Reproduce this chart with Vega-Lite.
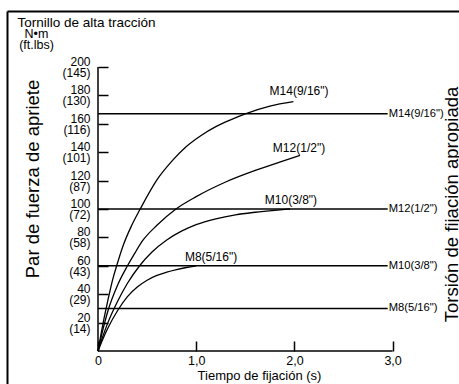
{
  "$schema": "https://vega.github.io/schema/vega-lite/v6.json",
  "width": 452,
  "height": 373,
  "autosize": {"type": "none"},
  "padding": {"left": 7, "top": 11, "right": 0, "bottom": 0},
  "background": "white",
  "config": {
    "view": {"stroke": null},
    "font": "Liberation Sans",
    "axis": {"grid": false, "domainColor": "black", "tickColor": "black", "labelColor": "black", "titleColor": "black", "titleFontWeight": "normal", "labelFlush": false, "labelOverlap": false, "labelBound": false, "labelFont": "Liberation Sans", "titleFont": "Liberation Sans"}
  },
  "datasets": {
    "axes": [
      {"t": 0, "v": 0, "t2": 0, "v2": 200},
      {"t": 0, "v": 0, "t2": 3, "v2": 0}
    ],
    "curves": [
      {"bolt": "M14(9/16\")", "t": 0, "v": 0},
      {"bolt": "M14(9/16\")", "t": 0.05, "v": 19},
      {"bolt": "M14(9/16\")", "t": 0.1, "v": 35.5},
      {"bolt": "M14(9/16\")", "t": 0.15, "v": 50.5},
      {"bolt": "M14(9/16\")", "t": 0.19, "v": 60},
      {"bolt": "M14(9/16\")", "t": 0.26, "v": 75},
      {"bolt": "M14(9/16\")", "t": 0.34, "v": 88},
      {"bolt": "M14(9/16\")", "t": 0.43, "v": 100},
      {"bolt": "M14(9/16\")", "t": 0.6, "v": 120.5},
      {"bolt": "M14(9/16\")", "t": 0.75, "v": 133.5},
      {"bolt": "M14(9/16\")", "t": 0.9, "v": 144},
      {"bolt": "M14(9/16\")", "t": 1.05, "v": 151.8},
      {"bolt": "M14(9/16\")", "t": 1.2, "v": 158},
      {"bolt": "M14(9/16\")", "t": 1.35, "v": 162.8},
      {"bolt": "M14(9/16\")", "t": 1.5, "v": 167},
      {"bolt": "M14(9/16\")", "t": 1.75, "v": 172.5},
      {"bolt": "M14(9/16\")", "t": 1.99, "v": 175.6},
      {"bolt": "M12(1/2\")", "t": 0, "v": 0},
      {"bolt": "M12(1/2\")", "t": 0.05, "v": 15},
      {"bolt": "M12(1/2\")", "t": 0.1, "v": 28},
      {"bolt": "M12(1/2\")", "t": 0.2, "v": 46.5},
      {"bolt": "M12(1/2\")", "t": 0.3, "v": 60},
      {"bolt": "M12(1/2\")", "t": 0.38, "v": 69.5},
      {"bolt": "M12(1/2\")", "t": 0.458, "v": 78},
      {"bolt": "M12(1/2\")", "t": 0.6, "v": 88.5},
      {"bolt": "M12(1/2\")", "t": 0.794, "v": 100},
      {"bolt": "M12(1/2\")", "t": 1.0, "v": 108.7},
      {"bolt": "M12(1/2\")", "t": 1.3, "v": 119},
      {"bolt": "M12(1/2\")", "t": 1.616, "v": 127.5},
      {"bolt": "M12(1/2\")", "t": 1.85, "v": 133},
      {"bolt": "M12(1/2\")", "t": 2.057, "v": 137.8},
      {"bolt": "M10(3/8\")", "t": 0, "v": 0},
      {"bolt": "M10(3/8\")", "t": 0.05, "v": 10.5},
      {"bolt": "M10(3/8\")", "t": 0.1, "v": 19.8},
      {"bolt": "M10(3/8\")", "t": 0.2, "v": 35},
      {"bolt": "M10(3/8\")", "t": 0.3, "v": 47.7},
      {"bolt": "M10(3/8\")", "t": 0.42, "v": 59.7},
      {"bolt": "M10(3/8\")", "t": 0.55, "v": 69.7},
      {"bolt": "M10(3/8\")", "t": 0.7, "v": 78.2},
      {"bolt": "M10(3/8\")", "t": 0.85, "v": 84.4},
      {"bolt": "M10(3/8\")", "t": 1.0, "v": 89},
      {"bolt": "M10(3/8\")", "t": 1.2, "v": 93.1},
      {"bolt": "M10(3/8\")", "t": 1.4, "v": 95.9},
      {"bolt": "M10(3/8\")", "t": 1.6, "v": 97.7},
      {"bolt": "M10(3/8\")", "t": 1.8, "v": 99.1},
      {"bolt": "M10(3/8\")", "t": 1.955, "v": 100},
      {"bolt": "M8(5/16\")", "t": 0, "v": 0},
      {"bolt": "M8(5/16\")", "t": 0.05, "v": 8.5},
      {"bolt": "M8(5/16\")", "t": 0.1, "v": 16},
      {"bolt": "M8(5/16\")", "t": 0.2, "v": 28.5},
      {"bolt": "M8(5/16\")", "t": 0.3, "v": 38.3},
      {"bolt": "M8(5/16\")", "t": 0.4, "v": 45},
      {"bolt": "M8(5/16\")", "t": 0.5, "v": 49.8},
      {"bolt": "M8(5/16\")", "t": 0.6, "v": 53.2},
      {"bolt": "M8(5/16\")", "t": 0.7, "v": 55.5},
      {"bolt": "M8(5/16\")", "t": 0.8, "v": 57.3},
      {"bolt": "M8(5/16\")", "t": 0.9, "v": 58.8},
      {"bolt": "M8(5/16\")", "t": 1.0, "v": 60}
    ],
    "torque": [
      {"bolt": "M14(9/16\")", "t": 0, "v": 167},
      {"bolt": "M14(9/16\")", "t": 2.95, "v": 167},
      {"bolt": "M12(1/2\")", "t": 0, "v": 100},
      {"bolt": "M12(1/2\")", "t": 2.95, "v": 100},
      {"bolt": "M10(3/8\")", "t": 0, "v": 60},
      {"bolt": "M10(3/8\")", "t": 2.95, "v": 60},
      {"bolt": "M8(5/16\")", "t": 0, "v": 30},
      {"bolt": "M8(5/16\")", "t": 2.95, "v": 30}
    ],
    "labels": [
      {"bolt": "M14(9/16\")", "t": 2.047, "v": 183.1},
      {"bolt": "M12(1/2\")", "t": 2.047, "v": 143},
      {"bolt": "M10(3/8\")", "t": 1.965, "v": 106.3},
      {"bolt": "M8(5/16\")", "t": 1.151, "v": 66.5}
    ]
  },
  "layer": [
    {
      "data": {"name": "axes"},
      "mark": {"type": "rule", "color": "black", "strokeWidth": 1.5},
      "encoding": {
        "x": {"field": "t", "type": "quantitative", "scale": {"domain": [-0.9267, 3.6762], "nice": false, "zero": false},
          "axis": {"orient": "top", "offset": 0, "domain": true, "domainWidth": 2, "ticks": false, "labels": false, "title": "Tornillo de alta tracción", "titleX": 10, "titleY": 15, "titleAlign": "left", "titleBaseline": "alphabetic", "titleAngle": 0, "titleFontSize": 13.5}},
        "x2": {"field": "t2"},
        "y": {"field": "v", "type": "quantitative", "scale": {"domain": [-23.24, 239.44], "nice": false, "zero": false},
          "axis": {"orient": "left", "offset": 0, "domain": true, "domainWidth": 2, "ticks": false, "labels": false, "title": "Par de fuerza de apriete", "titleX": 31, "titleY": 167.5, "titleAngle": 270, "titleAlign": "center", "titleBaseline": "alphabetic", "titleFontSize": 18.5}},
        "y2": {"field": "v2"}
      }
    },
    {
      "data": {"name": "curves"},
      "mark": {"type": "line", "color": "black", "strokeWidth": 1.3, "interpolate": "monotone"},
      "encoding": {
        "x": {"field": "t", "type": "quantitative", "scale": {"domain": [-0.9267, 3.6762], "nice": false, "zero": false},
          "axis": {"orient": "top", "offset": -340, "domain": false, "ticks": true, "tickSize": 10, "tickWidth": 1.5, "values": [0, 1, 2, 3],
            "labelExpr": "datum.value == 0 ? '0' : replace(format(datum.value, '.1f'), '.', ',')",
            "labelAlign": "center", "labelBaseline": "top", "labelPadding": -13, "labelFontSize": 12.5,
            "title": "Tiempo de fijación (s)", "titleX": 252, "titleY": 24, "titleAlign": "center", "titleBaseline": "middle", "titleAngle": 0, "titleFontSize": 13}},
        "y": {"field": "v", "type": "quantitative", "scale": {"domain": [-23.24, 239.44], "nice": false, "zero": false},
          "axis": {"orient": "right", "offset": -361, "domain": false, "ticks": true, "tickSize": 10, "tickWidth": 1.5, "values": [20, 40, 60, 80, 100, 120, 140, 160, 180, 200],
            "labelExpr": "[datum.label, ['(14)','(29)','(43)','(58)','(72)','(87)','(101)','(116)','(130)','(145)'][datum.value / 20 - 1]]",
            "labelAlign": "right", "labelBaseline": "middle", "labelPadding": -18, "labelOffset": -5.5, "labelFontSize": 12, "labelLineHeight": 11,
            "title": ["N•m", "(ft.lbs)"], "titleX": -62, "titleY": 22.5, "titleAngle": 0, "titleAlign": "center", "titleBaseline": "middle", "titleFontSize": 12.5, "titleLineHeight": 11}},
        "detail": {"field": "bolt"}
      }
    },
    {
      "data": {"name": "torque"},
      "mark": {"type": "line", "color": "black", "strokeWidth": 1.5},
      "encoding": {
        "x": {"field": "t", "type": "quantitative", "scale": {"domain": [-0.9267, 3.6762], "nice": false, "zero": false}, "axis": null},
        "y": {"field": "v", "type": "quantitative", "scale": {"domain": [-23.24, 239.44], "nice": false, "zero": false},
          "axis": {"orient": "right", "offset": 0, "domain": false, "ticks": false, "labels": false, "title": "Torsión de fijación apropiada", "titleX": -1.5, "titleY": 193, "titleAngle": 270, "titleAlign": "center", "titleBaseline": "alphabetic", "titleFontSize": 18.5}},
        "detail": {"field": "bolt"}
      }
    },
    {
      "data": {"name": "torque"},
      "transform": [{"filter": "datum.t > 0"}],
      "mark": {"type": "text", "align": "left", "baseline": "middle", "dx": 1, "fontSize": 11.2, "color": "black"},
      "encoding": {
        "x": {"field": "t", "type": "quantitative", "scale": {"domain": [-0.9267, 3.6762], "nice": false, "zero": false}, "axis": null},
        "y": {"field": "v", "type": "quantitative", "scale": {"domain": [-23.24, 239.44], "nice": false, "zero": false}, "axis": null},
        "text": {"field": "bolt"}
      }
    },
    {
      "data": {"name": "labels"},
      "mark": {"type": "text", "align": "center", "baseline": "middle", "fontSize": 12, "color": "black"},
      "encoding": {
        "x": {"field": "t", "type": "quantitative", "scale": {"domain": [-0.9267, 3.6762], "nice": false, "zero": false}, "axis": null},
        "y": {"field": "v", "type": "quantitative", "scale": {"domain": [-23.24, 239.44], "nice": false, "zero": false}, "axis": null},
        "text": {"field": "bolt"}
      }
    }
  ],
  "resolve": {"axis": {"x": "independent", "y": "independent"}}
}
